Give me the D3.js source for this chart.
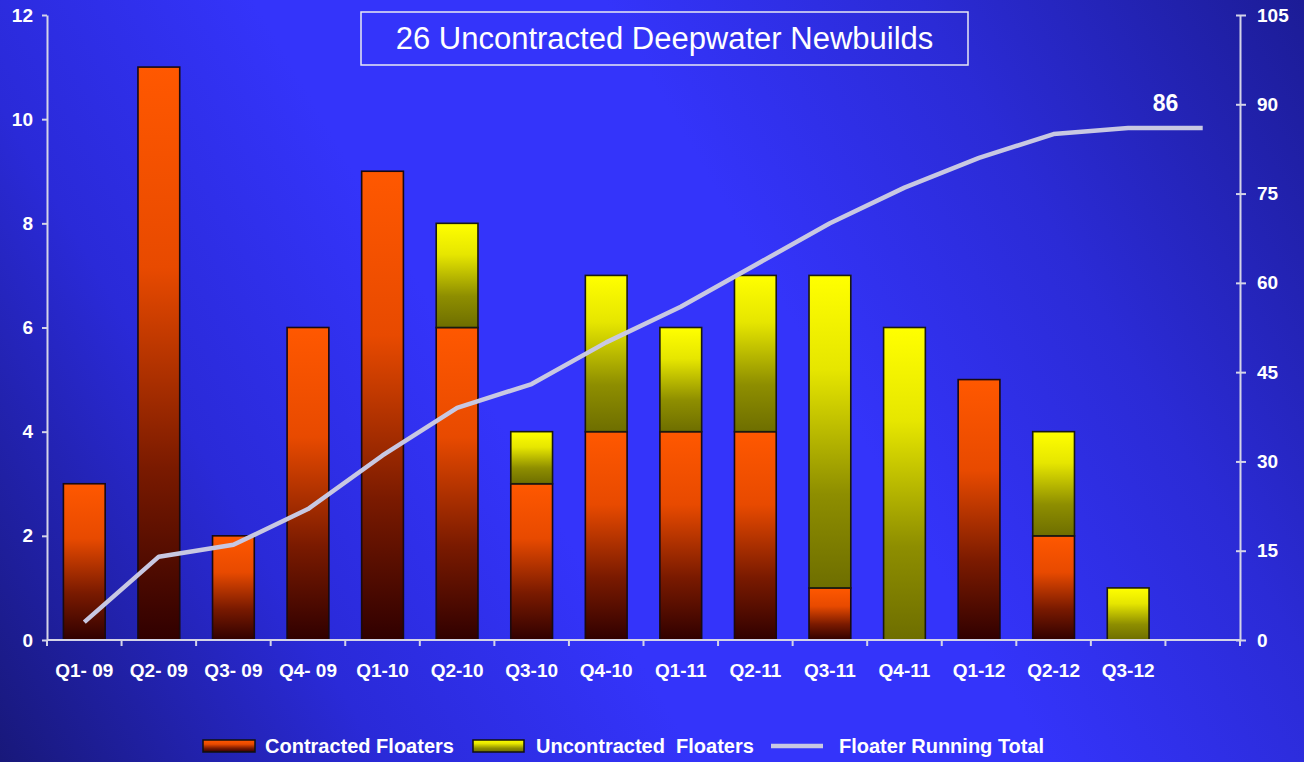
<!DOCTYPE html>
<html>
<head>
<meta charset="utf-8">
<script src="https://cdn.jsdelivr.net/npm/d3@7/dist/d3.min.js"></script>
<style>
  html, body { margin: 0; padding: 0; background: #2a2ad0; }
  svg { display: block; font-family: "Liberation Sans", Arial, sans-serif; }
</style>
</head>
<body>
<svg id="chart" width="1304" height="762"></svg>
<script>
// ---- data ----
const categories = ["Q1- 09","Q2- 09","Q3- 09","Q4- 09","Q1-10","Q2-10","Q3-10","Q4-10","Q1-11","Q2-11","Q3-11","Q4-11","Q1-12","Q2-12","Q3-12",""];
const contracted   = [3, 11, 2, 6, 9, 6, 3, 4, 4, 4, 1, 0, 5, 2, 0, 0];
const uncontracted = [0,  0, 0, 0, 0, 2, 1, 3, 2, 3, 6, 6, 0, 2, 1, 0];
const runningTotal = [3, 14, 16, 22, 31, 39, 43, 50, 56, 63, 70, 76, 81, 85, 86, 86];
const leftTicks  = [0, 2, 4, 6, 8, 10, 12];
const rightTicks = [0, 15, 30, 45, 60, 75, 90, 105];
const titleText = "26 Uncontracted Deepwater Newbuilds";
const endLabel = "86";
const seriesNames = ["Contracted Floaters", "Uncontracted  Floaters", "Floater Running Total"];

// ---- layout ----
const W = 1304, H = 762;
const m = { left: 47, right: 64, top: 15, bottom: 122 };
const x0 = m.left, x1 = W - m.right, yTop = m.top, yBot = H - m.bottom;

const svg = d3.select("#chart");
const defs = svg.append("defs");

const bg = defs.append("linearGradient").attr("id", "bg")
  .attr("gradientUnits", "userSpaceOnUse")
  .attr("x1", 0).attr("y1", H).attr("x2", W).attr("y2", 0);
[[0, "#18187a"], [0.22, "#2a2ad8"], [0.4, "#3434fa"], [0.6, "#3434fa"], [0.78, "#2b2bd6"], [1, "#1c1c96"]]
  .forEach(([o, c]) => bg.append("stop").attr("offset", o).attr("stop-color", c));

const gC = defs.append("linearGradient").attr("id", "gC").attr("x1", 0).attr("y1", 0).attr("x2", 0).attr("y2", 1);
[[0, "#ff5800"], [0.35, "#e84a00"], [0.7, "#7a1a00"], [1, "#300000"]]
  .forEach(([o, c]) => gC.append("stop").attr("offset", o).attr("stop-color", c));
const gU = defs.append("linearGradient").attr("id", "gU").attr("x1", 0).attr("y1", 0).attr("x2", 0).attr("y2", 1);
[[0, "#ffff00"], [0.3, "#e6e600"], [0.7, "#8e8e00"], [1, "#6e6e00"]]
  .forEach(([o, c]) => gU.append("stop").attr("offset", o).attr("stop-color", c));

svg.append("rect").attr("width", W).attr("height", H).attr("fill", "url(#bg)");

// ---- scales ----
const x = d3.scaleBand().domain(d3.range(categories.length)).range([x0, x1]).paddingInner(0).paddingOuter(0);
const yL = d3.scaleLinear().domain([0, 12]).range([yBot, yTop]);
const yR = d3.scaleLinear().domain([0, 105]).range([yBot, yTop]);
const bw = x.bandwidth() * 0.56;
const cx = i => x(i) + x.bandwidth() / 2;

// ---- bars ----
const gBars = svg.append("g");
categories.forEach((c, i) => {
  if (contracted[i] > 0) {
    gBars.append("rect")
      .attr("x", cx(i) - bw / 2).attr("width", bw)
      .attr("y", yL(contracted[i])).attr("height", yL(0) - yL(contracted[i]))
      .attr("fill", "url(#gC)").attr("stroke", "#1a0a10").attr("stroke-width", 1.6);
  }
  if (uncontracted[i] > 0) {
    const base = contracted[i], top = contracted[i] + uncontracted[i];
    gBars.append("rect")
      .attr("x", cx(i) - bw / 2).attr("width", bw)
      .attr("y", yL(top)).attr("height", yL(base) - yL(top))
      .attr("fill", "url(#gU)").attr("stroke", "#1a1a10").attr("stroke-width", 1.6);
  }
});

// ---- axes ----
const axisColor = "#d4d4e8";
const fontAxis = "19px";

const axL = svg.append("g").attr("transform", `translate(${x0},0)`)
  .call(d3.axisLeft(yL).tickValues(leftTicks).tickSize(5).tickSizeOuter(0).tickPadding(9));
axL.select(".domain").attr("stroke", axisColor).attr("stroke-width", 2);
axL.selectAll(".tick line").attr("stroke", axisColor).attr("stroke-width", 2);
axL.selectAll(".tick text").attr("fill", "#fff").attr("font-size", fontAxis).attr("font-weight", "bold")
  .attr("font-family", "Liberation Sans, Arial, sans-serif");

const axR = svg.append("g").attr("transform", `translate(${x1},0)`)
  .call(d3.axisRight(yR).tickValues(rightTicks).tickSize(6).tickSizeOuter(0).tickPadding(11));
axR.select(".domain").attr("stroke", axisColor).attr("stroke-width", 2);
axR.selectAll(".tick line").attr("x1", -4).attr("stroke", axisColor).attr("stroke-width", 2);
axR.selectAll(".tick text").attr("fill", "#fff").attr("font-size", fontAxis).attr("font-weight", "bold")
  .attr("font-family", "Liberation Sans, Arial, sans-serif");

// x axis
const gx = svg.append("g");
gx.append("line").attr("x1", x0).attr("x2", x1).attr("y1", yBot).attr("y2", yBot)
  .attr("stroke", axisColor).attr("stroke-width", 2);
d3.range(categories.length + 1).forEach(i => {
  const xx = i < categories.length ? x(i) : x1;
  gx.append("line").attr("x1", xx).attr("x2", xx).attr("y1", yBot).attr("y2", yBot + 6)
    .attr("stroke", axisColor).attr("stroke-width", 2);
});
gx.selectAll("text.cat").data(categories).join("text").attr("class", "cat")
  .attr("x", (d, i) => cx(i)).attr("y", yBot + 37)
  .attr("text-anchor", "middle").attr("fill", "#fff")
  .attr("font-size", fontAxis).attr("font-weight", "bold")
  .attr("xml:space", "preserve").style("white-space", "pre")
  .text(d => d);

// ---- running total line ----
const line = d3.line().x((d, i) => cx(i)).y(d => yR(d));
svg.append("path").datum(runningTotal).attr("d", line)
  .attr("fill", "none").attr("stroke", "#c8c8e2").attr("stroke-width", 4.5)
  .attr("stroke-linejoin", "round");

// end label
const n = runningTotal.length;
svg.append("text")
  .attr("x", (cx(n - 2) + cx(n - 1)) / 2)
  .attr("y", yR(runningTotal[n - 1]) - 17)
  .attr("text-anchor", "middle").attr("fill", "#fff")
  .attr("font-size", "23px").attr("font-weight", "bold").text(endLabel);

// ---- title ----
svg.append("rect").attr("x", 361).attr("y", 12).attr("width", 607).attr("height", 53)
  .attr("fill", "none").attr("stroke", "#e8e8f4").attr("stroke-width", 1.5);
svg.append("text").attr("x", 664.5).attr("y", 49).attr("text-anchor", "middle")
  .attr("fill", "#fff").attr("font-size", "31px").text(titleText);

// ---- legend ----
const lg = svg.append("g");
const ly = 746;
lg.append("rect").attr("x", 203).attr("y", ly - 6).attr("width", 52).attr("height", 12)
  .attr("fill", "url(#gC)").attr("stroke", "#111").attr("stroke-width", 1.5);
lg.append("text").attr("x", 265).attr("y", ly + 7).attr("fill", "#fff")
  .attr("font-size", "20px").attr("font-weight", "bold").text(seriesNames[0]);
lg.append("rect").attr("x", 473).attr("y", ly - 6).attr("width", 51).attr("height", 12)
  .attr("fill", "url(#gU)").attr("stroke", "#111").attr("stroke-width", 1.5);
lg.append("text").attr("x", 536).attr("y", ly + 7).attr("fill", "#fff")
  .attr("font-size", "20px").attr("font-weight", "bold")
  .attr("xml:space", "preserve").style("white-space", "pre").text(seriesNames[1]);
lg.append("line").attr("x1", 771).attr("x2", 823).attr("y1", ly).attr("y2", ly)
  .attr("stroke", "#c8c8e2").attr("stroke-width", 4.5);
lg.append("text").attr("x", 839).attr("y", ly + 7).attr("fill", "#fff")
  .attr("font-size", "20px").attr("font-weight", "bold").text(seriesNames[2]);
</script>
</body>
</html>
